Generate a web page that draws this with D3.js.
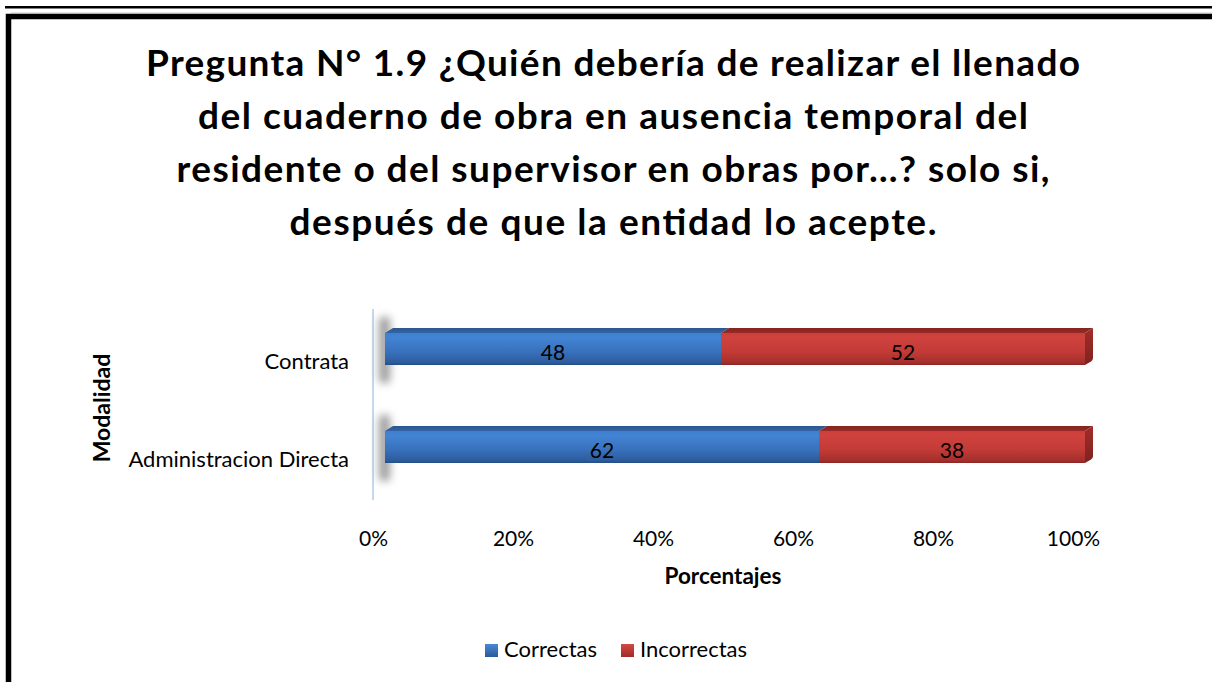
<!DOCTYPE html>
<html><head><meta charset="utf-8">
<script src="https://cdn.jsdelivr.net/npm/d3@7"></script>
<style>
html,body{margin:0;padding:0;background:#fff;}
svg{display:block;font-family:Lato,"Open Sans",sans-serif;}
</style></head>
<body>
<script>
const titleLines = [
  "Pregunta N° 1.9 ¿Quién debería de realizar el llenado",
  "del cuaderno de obra en ausencia temporal del",
  "residente o del supervisor en obras por…? solo si,",
  "después de que la entidad lo acepte."
];
const categories = ["Contrata", "Administracion Directa"];
const seriesNames = ["Correctas", "Incorrectas"];
const correctas = [48, 62];
const incorrectas = [52, 38];
const tickValues = [0, 0.2, 0.4, 0.6, 0.8, 1.0];
const xTitle = "Porcentajes";
const yTitle = "Modalidad";

const W = 1212, H = 682;
const svg = d3.select("body").append("svg").attr("width", W).attr("height", H);
const defs = svg.append("defs");

function vgrad(id, stops) {
  const g = defs.append("linearGradient").attr("id", id).attr("x1", 0).attr("y1", 0).attr("x2", 0).attr("y2", 1);
  stops.forEach(s => g.append("stop").attr("offset", s[0]).attr("stop-color", s[1]));
}
vgrad("blueFront", [[0, "#3f7fd0"], [0.15, "#4284d3"], [0.6, "#3870bb"], [0.92, "#2d5c9c"], [1, "#244d82"]]);
vgrad("redFront", [[0, "#cc3f3b"], [0.15, "#cf423e"], [0.6, "#c23a36"], [0.92, "#a42f2c"], [1, "#8a2624"]]);
vgrad("blueTop", [[0, "#2c578f"], [1, "#3364a6"]]);
vgrad("redTop", [[0, "#86231f"], [1, "#962b28"]]);
vgrad("redSide", [[0, "#a02d2a"], [1, "#7f2220"]]);
vgrad("blueKey", [[0, "#4a88d6"], [1, "#2b5a98"]]);
vgrad("redKey", [[0, "#d24a45"], [1, "#9e2c2a"]]);
const blur = defs.append("filter").attr("id", "sh").attr("x", "-200%").attr("y", "-50%").attr("width", "500%").attr("height", "200%");
blur.append("feGaussianBlur").attr("stdDeviation", 4);

// frame
svg.append("rect").attr("x", 5).attr("y", 6).attr("width", W).attr("height", 2.5).attr("fill", "#000");
svg.append("rect").attr("x", 8.5).attr("y", 16.5).attr("width", 1400).attr("height", 1000)
  .attr("fill", "none").attr("stroke", "#000").attr("stroke-width", 5.5);
svg.append("line").attr("x1", 11).attr("x2", W).attr("y1", 13.2).attr("y2", 13.2).attr("stroke", "#aaa").attr("stroke-width", 1);

// title
const titleWidths = [934, 830, 873, 647];
svg.append("g").selectAll("text").data(titleLines).join("text")
  .attr("x", 613).attr("y", (d, i) => 76 + i * 53)
  .attr("text-anchor", "middle").attr("font-weight", "bold").attr("font-size", 37)
  .attr("textLength", (d, i) => titleWidths[i]).attr("lengthAdjust", "spacing")
  .attr("fill", "#000").text(d => d);

// scales
const xAxisScale = d3.scaleLinear().domain([0, 1]).range([373, 1073]);
const shift3d = 12;
const x = d3.scaleLinear().domain([0, 100]).range([373 + shift3d, 1073 + shift3d]);
const y = d3.scalePoint().domain(categories).range([349, 447]);
const barH = 32, dx = 8, dy = -5;

// axis line
svg.append("line").attr("x1", 373).attr("x2", 373).attr("y1", 309).attr("y2", 500)
  .attr("stroke", "#c6d7ee").attr("stroke-width", 2);

// data stacking
const stackData = categories.map((c, i) => ({ cat: c, Correctas: correctas[i], Incorrectas: incorrectas[i] }));
const stacked = d3.stack().keys(seriesNames)(stackData);
const fills = { Correctas: ["blueFront", "blueTop", "redSide"], Incorrectas: ["redFront", "redTop", "redSide"] };

// shadows
svg.append("g").selectAll("rect").data(categories).join("rect")
  .attr("x", x(0) - 6).attr("y", d => y(d) - barH / 2 - 16).attr("width", 11).attr("height", barH + 34)
  .attr("rx", 4)
  .attr("fill", "#5a5a5a").attr("opacity", 0.6).attr("filter", "url(#sh)");

const bars = svg.append("g");
stacked.forEach(layer => {
  const key = layer.key;
  const g = bars.append("g");
  layer.forEach((seg, i) => {
    const cat = categories[i];
    const x0 = x(seg[0]), x1 = x(seg[1]);
    const yt = y(cat) - barH / 2, yb = y(cat) + barH / 2;
    g.append("path").attr("d", `M${x0},${yt} L${x0 + dx},${yt + dy} L${x1 + dx},${yt + dy} L${x1},${yt} Z`)
      .attr("fill", `url(#${fills[key][1]})`);
    if (seg[1] >= 100) {
      g.append("path").attr("d", `M${x1},${yt} L${x1 + dx},${yt + dy} L${x1 + dx},${yb + dy - 2} Q${x1 + dx},${yb + dy} ${x1 + dx - 2},${yb + dy + 1.5} L${x1},${yb} Z`)
        .attr("fill", `url(#${fills[key][2]})`);
    }
    g.append("rect").attr("x", x0).attr("y", yt).attr("width", x1 - x0).attr("height", barH)
      .attr("fill", `url(#${fills[key][0]})`);
    g.append("text").attr("x", (x0 + x1) / 2).attr("y", y(cat) + 11)
      .attr("text-anchor", "middle").attr("font-size", 21).attr("fill", "#000")
      .text(seg.data[key]);
  });
});

// category labels
svg.append("g").selectAll("text").data(categories).join("text")
  .attr("x", 349).attr("y", d => y(d) + 20).attr("text-anchor", "end")
  .attr("font-size", 22).attr("fill", "#000").text(d => d);

// tick labels
const axis = d3.axisBottom(xAxisScale).tickValues(tickValues).tickFormat(d3.format(".0%")).tickSize(0).tickPadding(0);
const ag = svg.append("g").attr("transform", "translate(0,530)").call(axis);
ag.select(".domain").remove();
ag.selectAll("text").attr("font-size", 21).attr("font-family", "Lato,'Open Sans',sans-serif").attr("fill", "#000")
  .attr("dy", 0).attr("y", 16);

// axis titles
svg.append("text").attr("x", 723).attr("y", 584).attr("text-anchor", "middle")
  .attr("font-weight", "bold").attr("font-size", 22.5).text(xTitle);
svg.append("text").attr("transform", "translate(110,408) rotate(-90)").attr("text-anchor", "middle")
  .attr("font-weight", "bold").attr("font-size", 23).text(yTitle);

// legend
const legX = [485, 621];
const lg = svg.append("g").selectAll("g").data(seriesNames).join("g")
  .attr("transform", (d, i) => `translate(${legX[i]},644)`);
lg.append("rect").attr("width", 13).attr("height", 13).attr("fill", (d, i) => i === 0 ? "url(#blueKey)" : "url(#redKey)");
lg.append("text").attr("x", 19).attr("y", 13).attr("font-size", 22).text(d => d);
</script>
</body></html>
